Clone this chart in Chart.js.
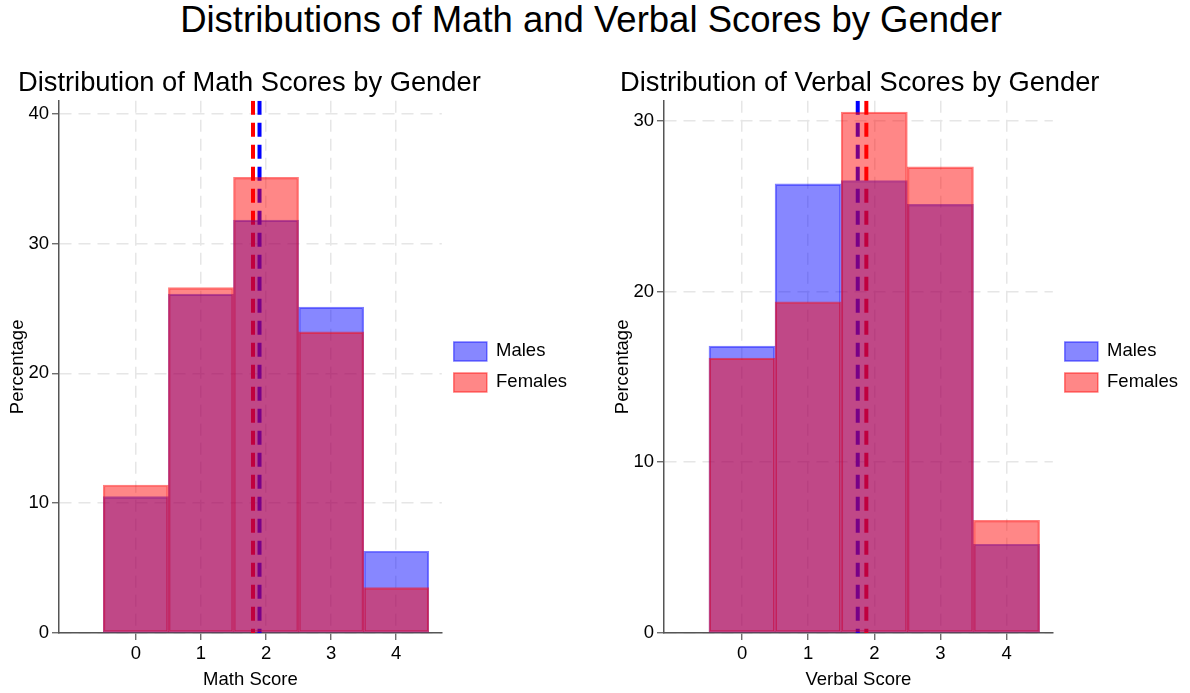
<!DOCTYPE html>
<html>
<head>
<meta charset="utf-8">
<script src="https://cdn.jsdelivr.net/npm/chart.js@4"></script>
<style>
  html, body { margin: 0; padding: 0; background: #fff; }
  body { width: 1190px; height: 693px; position: relative; overflow: hidden; font-family: "Liberation Sans", Arial, sans-serif; }
  #mainTitle { position: absolute; left: 0; top: 0; width: 1182px; text-align: center; font-size: 36.5px; line-height: 40px; color: #000; }
  canvas { position: absolute; top: 0; }
  #c1 { left: 0; }
  #c2 { left: 601px; }
</style>
</head>
<body>
<div id="mainTitle">Distributions of Math and Verbal Scores by Gender</div>
<canvas id="c1" width="585" height="693"></canvas>
<canvas id="c2" width="589" height="693"></canvas>
<script>
// ---- data ----
const scoreBins = [0, 1, 2, 3, 4];
const mathMales   = [10.5, 26.1, 31.8, 25.1, 6.3];
const mathFemales = [11.4, 26.6, 35.1, 23.2, 3.5];
const mathMeanMales = 1.90;
const mathMeanFemales = 1.80;
const verbalMales   = [16.8, 26.3, 26.5, 25.1, 5.2];
const verbalFemales = [16.1, 19.4, 30.5, 27.3, 6.6];
const verbalMeanMales = 1.75;
const verbalMeanFemales = 1.88;
const mathYTicks = [0, 10, 20, 30, 40];
const verbalYTicks = [0, 10, 20, 30];
const seriesLabels = ['Males', 'Females'];

Chart.defaults.font.family = '"Liberation Sans", Arial, sans-serif';
Chart.defaults.color = '#111';

const FONT = 18.5;
const gridColor = '#e6e6e6';
const axisColor = '#555';

function makeChart(id, o) {
  const toPts = arr => scoreBins.map((b, i) => ({x: b, y: arr[i]}));
  const meanLine = (m, yMax) => [{x: m, y: yMax}, {x: m, y: 0}];
  const cfg = {
    type: 'bar',
    data: {
      datasets: [
        { label: seriesLabels[0], data: toPts(o.males), order: 2, grouped: false,
          backgroundColor: 'rgba(0,0,255,0.47)', borderColor: 'rgba(0,0,255,0.5)', borderWidth: 1.5,
          borderSkipped: false, barPercentage: 1, categoryPercentage: 1 },
        { label: seriesLabels[1], data: toPts(o.females), order: 1, grouped: false,
          backgroundColor: 'rgba(255,0,0,0.47)', borderColor: 'rgba(255,0,0,0.5)', borderWidth: 1.5,
          borderSkipped: false, barPercentage: 1, categoryPercentage: 1 },
        { type: 'line', label: 'mean m', data: meanLine(o.meanM, o.yMax), order: 3,
          borderColor: '#0000ff', borderWidth: 4, borderDash: [14, 8], pointRadius: 0, fill: false, borderCapStyle: 'butt' },
        { type: 'line', label: 'mean f', data: meanLine(o.meanF, o.yMax), order: 4,
          borderColor: '#ff0000', borderWidth: 4, borderDash: [14, 8], pointRadius: 0, fill: false, borderCapStyle: 'butt' }
      ]
    },
    options: {
      responsive: false,
      animation: false,
      devicePixelRatio: 1,
      layout: { padding: { left: o.padLeft, top: 67, right: o.padRight, bottom: 0 } },
      plugins: {
        tooltip: { enabled: false },
        title: { display: true, text: o.title, align: 'start', color: '#000',
                 font: { size: 27.3, weight: 'normal' }, padding: { top: 0, bottom: 1 } },
        legend: {
          position: 'right',
          align: 'center',
          fullSize: false,
          labels: {
            color: '#000',
            font: { size: FONT },
            boxWidth: 33, boxHeight: 19, padding: 12,
            filter: item => item.datasetIndex < 2,
            sort: (a, b) => a.datasetIndex - b.datasetIndex
          }
        }
      },
      scales: {
        x: {
          type: 'linear',
          offset: false,
          min: -1.18, max: 4.7,
          afterBuildTicks: s => { s.ticks = scoreBins.map(v => ({value: v})); },
          afterFit: s => { s.height = 60; },
          ticks: { font: { size: FONT }, color: '#000', padding: 3, maxRotation: 0 },
          grid: { offset: false, color: gridColor, lineWidth: 1.5, tickLength: 7, tickColor: axisColor, tickWidth: 1.2, tickBorderDash: [] },
          border: { display: true, color: axisColor, width: 1.5, dash: [12, 7] },
          title: { display: true, text: o.xTitle, color: '#000', font: { size: FONT }, padding: { top: 0, bottom: 2 } }
        },
        y: {
          type: 'linear',
          min: 0, max: o.yMax,
          afterBuildTicks: s => { s.ticks = o.yTicks.map(v => ({value: v})); },
          afterFit: s => { s.width = o.yWidth; },
          ticks: { font: { size: FONT }, color: '#000', padding: 3 },
          grid: { color: gridColor, lineWidth: 1.5, tickLength: 7, tickColor: axisColor, tickWidth: 1.2, tickBorderDash: [] },
          border: { display: true, color: axisColor, width: 1.5, dash: [12, 7] },
          title: { display: true, text: 'Percentage', color: '#000', font: { size: FONT }, padding: { top: o.yTitlePad, bottom: 0 } }
        }
      }
    }
  };
  return new Chart(document.getElementById(id), cfg);
}

makeChart('c1', {
  title: 'Distribution of Math Scores by Gender', xTitle: 'Math Score',
  males: mathMales, females: mathFemales, meanM: mathMeanMales, meanF: mathMeanFemales,
  yMax: 41, yTicks: mathYTicks, padLeft: 18, yWidth: 41, yTitlePad: -11, padRight: 8
});
makeChart('c2', {
  title: 'Distribution of Verbal Scores by Gender', xTitle: 'Verbal Score',
  males: verbalMales, females: verbalFemales, meanM: verbalMeanMales, meanF: verbalMeanFemales,
  yMax: 31.17, yTicks: verbalYTicks, padLeft: 19, yWidth: 44, yTitlePad: -8, padRight: 2
});
</script>
</body>
</html>
